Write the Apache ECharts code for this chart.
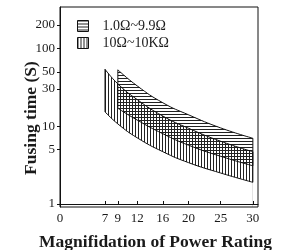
<!DOCTYPE html>
<html>
<head>
<meta charset="utf-8">
<script src="https://cdn.jsdelivr.net/npm/echarts@6/dist/echarts.min.js"></script>
<style>
  html, body { margin: 0; padding: 0; background: #fff; }
  #chart { width: 285px; height: 250px; }
</style>
</head>
<body>
<div id="chart"></div>
<script>
// 1.0Ω~9.9Ω band (horizontal hatch)
const xLow = [9, 12, 16, 20, 25, 30];
const lowTop = [53, 33, 20, 14, 9.5, 7];
const lowBottom = [17, 12, 8, 5.7, 4.1, 3.1];
// 10Ω~10KΩ band (vertical hatch)
const xHigh = [7, 9, 12, 16, 20, 25, 30];
const highTop = [54, 35, 22, 13.5, 9.4, 6.4, 4.7];
const highBottom = [15.3, 10.7, 7.1, 4.7, 3.4, 2.5, 1.9];

const names = ["1.0Ω~9.9Ω", "10Ω~10KΩ"];
const xTicks = [0, 7, 9, 12, 16, 20, 25, 30];
const yTicks = [1, 5, 10, 30, 50, 100, 200];

const lg = (v) => Math.log10(v);
const font = "Liberation Serif";

function hatch(vertical) {
  const c = document.createElement("canvas");
  c.width = 3;
  c.height = 3;
  const g = c.getContext("2d");
  g.fillStyle = "#222";
  if (vertical) g.fillRect(0, 0, 1, 3);
  else g.fillRect(0, 0, 3, 1);
  return { image: c, repeat: "repeat" };
}
const hPat = hatch(false);
const vPat = hatch(true);

const line = { color: "#111", width: 1 };

// top curve fills down with the hatch, bottom curve wipes it white below
function band(name, xs, top, bottom, pat) {
  return [
    {
      name: name,
      type: "line",
      smooth: true,
      symbol: "none",
      lineStyle: line,
      areaStyle: { color: pat, opacity: 1, origin: "start" },
      data: xs.map((x, i) => [x, lg(top[i])]),
    },
    {
      name: name + " low",
      type: "line",
      smooth: true,
      symbol: "none",
      lineStyle: line,
      areaStyle: { color: "#fff", opacity: 1, origin: "start" },
      data: xs.map((x, i) => [x, lg(bottom[i])]),
    },
  ];
}

// vertical end edges of a band
function edge(x, a, b) {
  return {
    type: "line",
    symbol: "none",
    z: 3,
    lineStyle: line,
    data: [
      [x, lg(a)],
      [x, lg(b)],
    ],
  };
}

const last = xLow.length - 1;
const lastH = xHigh.length - 1;

const series = []
  .concat(band(names[0], xLow, lowTop, lowBottom, hPat))
  .concat(band(names[1], xHigh, highTop, highBottom, vPat))
  .concat([
    edge(xHigh[0], highBottom[0], highTop[0]),
    edge(xHigh[lastH], highBottom[lastH], highTop[lastH]),
    edge(xLow[0], lowBottom[0], lowTop[0]),
    edge(xLow[last], lowBottom[last], lowTop[last]),
  ]);

const chart = echarts.init(document.getElementById("chart"));
chart.setOption({
  animation: false,
  grid: {
    left: 60,
    top: 7,
    width: 198,
    height: 200,
    outerBoundsMode: "none",
    show: true,
    borderColor: "#111",
    borderWidth: 1,
    z: 4,
  },
  legend: {
    orient: "vertical",
    left: 77,
    top: 19,
    padding: 0,
    itemWidth: 11,
    itemHeight: 11,
    itemGap: 3,
    textStyle: { fontFamily: font, fontSize: 14, color: "#1a1a1a", padding: [0, 0, 0, 9] },
    data: [
      { name: names[0], icon: "rect", itemStyle: { color: hPat, borderColor: "#111", borderWidth: 1 } },
      { name: names[1], icon: "rect", itemStyle: { color: vPat, borderColor: "#111", borderWidth: 1 } },
    ],
  },
  xAxis: {
    type: "value",
    min: 0,
    max: 30.8,
    z: 5,
    name: "Magnifidation of Power Rating",
    nameLocation: "middle",
    nameGap: 26,
    nameMoveOverlap: false,
    nameTextStyle: { fontFamily: font, fontSize: 17.5, fontWeight: "bold", color: "#1a1a1a", padding: [0, 7, 0, 0] },
    axisLine: { lineStyle: { color: "#111" } },
    axisTick: { inside: true, length: 3, customValues: xTicks, lineStyle: { color: "#111" } },
    axisLabel: { customValues: xTicks, margin: 5, fontFamily: font, fontSize: 13, color: "#1a1a1a" },
    splitLine: { show: false },
  },
  yAxis: {
    type: "value",
    min: -0.0386,
    max: 2.532,
    z: 5,
    name: "Fusing time (S)",
    nameLocation: "middle",
    nameGap: 19.5,
    nameMoveOverlap: false,
    nameTextStyle: { fontFamily: font, fontSize: 17.5, fontWeight: "bold", color: "#1a1a1a", padding: [0, 22, 0, 0] },
    axisLine: { show: true, lineStyle: { color: "#111" } },
    axisTick: { length: 3, customValues: yTicks.map(lg), lineStyle: { color: "#111" } },
    axisLabel: {
      customValues: yTicks.map(lg),
      margin: 5,
      fontFamily: font,
      fontSize: 13,
      color: "#1a1a1a",
      formatter: (v) => String(Math.round(Math.pow(10, v))),
    },
    splitLine: { show: false },
  },
  series: series,
});
</script>
</body>
</html>
